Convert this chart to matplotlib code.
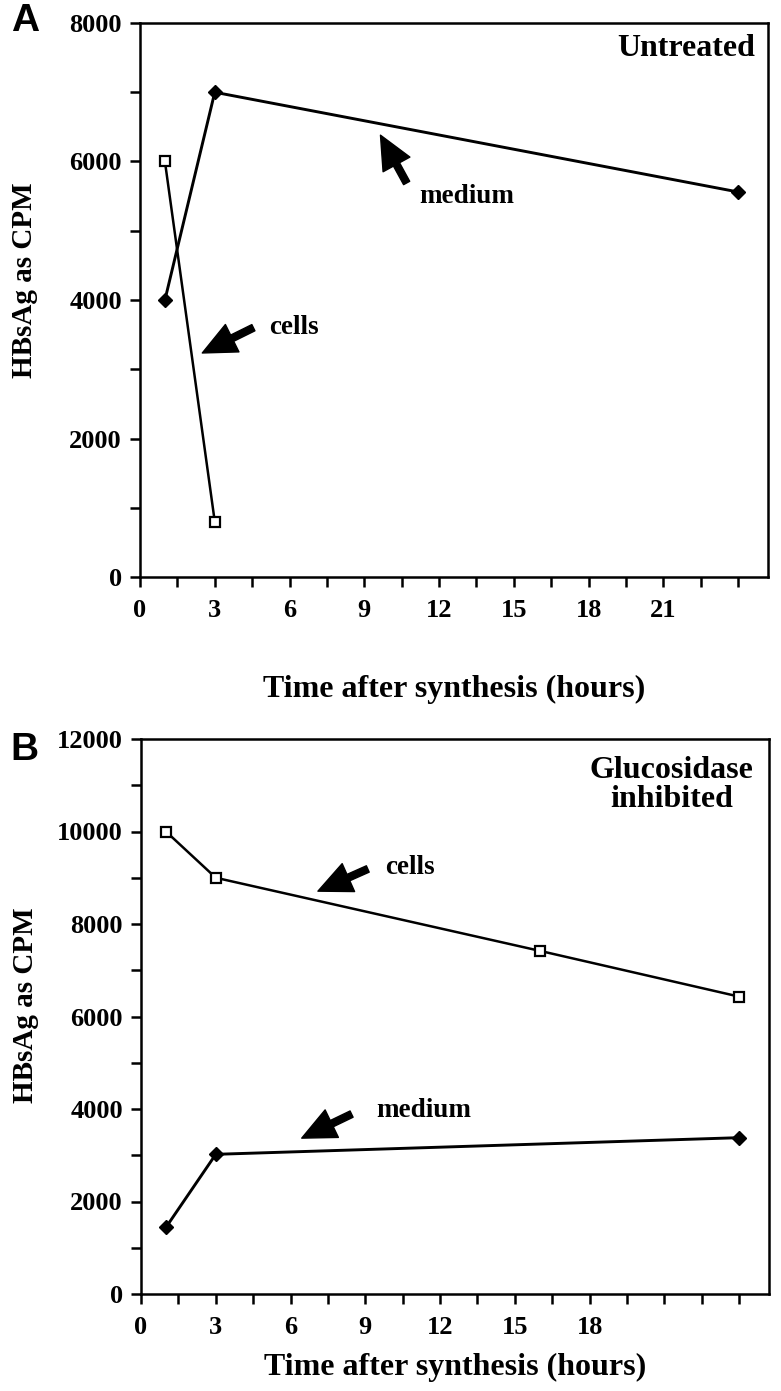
import numpy as np
import matplotlib
matplotlib.use("Agg")
import matplotlib.pyplot as plt
from matplotlib.ticker import MultipleLocator

# ---- data ----
# panel A: untreated
a_medium_t = [1, 3, 24]
a_medium_cpm = [4000, 7000, 5560]
a_cells_t = [1, 3]
a_cells_cpm = [6000, 800]

# panel B: glucosidase inhibited
b_medium_t = [1, 3, 24]
b_medium_cpm = [1440, 3020, 3380]
b_cells_t = [1, 3, 16, 24]
b_cells_cpm = [10000, 9000, 7420, 6430]

x_ticks = [0, 1.5, 3, 4.5, 6, 7.5, 9, 10.5, 12, 13.5, 15, 16.5, 18, 19.5, 21, 22.5, 24]
a_x_labels = ["0", "", "3", "", "6", "", "9", "", "12", "", "15", "", "18", "", "21", "", ""]
b_x_labels = ["0", "", "3", "", "6", "", "9", "", "12", "", "15", "", "18", "", "", "", ""]
a_y_ticks = [0, 2000, 4000, 6000, 8000]
b_y_ticks = [0, 2000, 4000, 6000, 8000, 10000, 12000]

SERIF = ["Liberation Serif", "DejaVu Serif"]
plt.rcParams["font.family"] = SERIF
plt.rcParams["font.weight"] = "bold"

fig = plt.figure(figsize=(7.81, 13.91), dpi=100)
ax_a = fig.add_axes([140 / 781, 1 - 577 / 1391, 628 / 781, 554 / 1391])
ax_b = fig.add_axes([141 / 781, 1 - 1294 / 1391, 628 / 781, 555 / 1391])


def style_axes(ax, ymax, yticks, xlabels, xpad):
    ax.set_xlim(0, 25.2)
    ax.set_ylim(0, ymax)
    ax.set_xticks(x_ticks)
    ax.set_xticklabels(xlabels)
    ax.set_yticks(yticks)
    ax.yaxis.set_minor_locator(MultipleLocator(1000))
    for s in ax.spines.values():
        s.set_linewidth(1.8)
    ax.tick_params(which="both", direction="out", length=7, width=1.8,
                   labelsize=19, pad=6)
    ax.tick_params(axis="x", pad=9)
    for lab in ax.get_xticklabels() + ax.get_yticklabels():
        lab.set_fontweight("bold")
    ax.set_xlabel("Time after synthesis (hours)", fontsize=23,
                  fontweight="bold", labelpad=xpad)
    ax.set_ylabel("HBsAg as CPM", fontsize=21, fontweight="bold")


def draw_series(ax, mt, mv, ct, cv):
    ax.plot(mt, mv, color="black", lw=2.1, marker="D", markersize=7,
            markerfacecolor="black", markeredgecolor="black", zorder=3)
    ax.plot(ct, cv, color="black", lw=1.8, marker="s", markersize=7,
            markerfacecolor="white", markeredgecolor="black",
            markeredgewidth=1.6, zorder=3)


def arrow(ax, tip, tail):
    ax.annotate("", xy=tip, xytext=tail,
                arrowprops=dict(arrowstyle="simple,head_length=2.4,head_width=2.2,tail_width=0.5",
                                color="black", shrinkA=0, shrinkB=0))


# ---- panel A ----
style_axes(ax_a, 8000, a_y_ticks, a_x_labels, 38)
draw_series(ax_a, a_medium_t, a_medium_cpm, a_cells_t, a_cells_cpm)
ax_a.yaxis.set_label_coords(-0.163, 0.535)
ax_a.text(0.98, 0.98, "Untreated", transform=ax_a.transAxes, ha="right", va="top",
          fontsize=23, fontweight="bold")
arrow(ax_a, (9.65, 6380), (10.7, 5690))
ax_a.text(11.2, 5490, "medium", fontsize=19.5, fontweight="bold", va="center", ha="left")
arrow(ax_a, (2.5, 3235), (4.55, 3600))
ax_a.text(5.2, 3610, "cells", fontsize=19.5, fontweight="bold", va="center", ha="left")

# ---- panel B ----
style_axes(ax_b, 12000, b_y_ticks, b_x_labels, 10)
draw_series(ax_b, b_medium_t, b_medium_cpm, b_cells_t, b_cells_cpm)
ax_b.yaxis.set_label_coords(-0.163, 0.52)
ax_b.text(0.845, 0.97, "Glucosidase\ninhibited", transform=ax_b.transAxes,
          ha="center", va="top", fontsize=23, fontweight="bold",
          multialignment="center", linespacing=1.0)
arrow(ax_b, (7.1, 8710), (9.1, 9190))
ax_b.text(9.8, 9230, "cells", fontsize=19.5, fontweight="bold", va="center", ha="left")
arrow(ax_b, (6.45, 3370), (8.45, 3890))
ax_b.text(9.45, 3960, "medium", fontsize=19.5, fontweight="bold", va="center", ha="left")

# panel letters
fig.text(11 / 781, 1 - 3 / 1391, "A", fontsize=28, fontweight="bold",
         family=["Liberation Sans", "DejaVu Sans"], va="top", ha="left")
fig.text(10 / 781, 1 - 732 / 1391, "B", fontsize=28, fontweight="bold",
         family=["Liberation Sans", "DejaVu Sans"], va="top", ha="left")

fig.savefig("out.png", dpi=100)
